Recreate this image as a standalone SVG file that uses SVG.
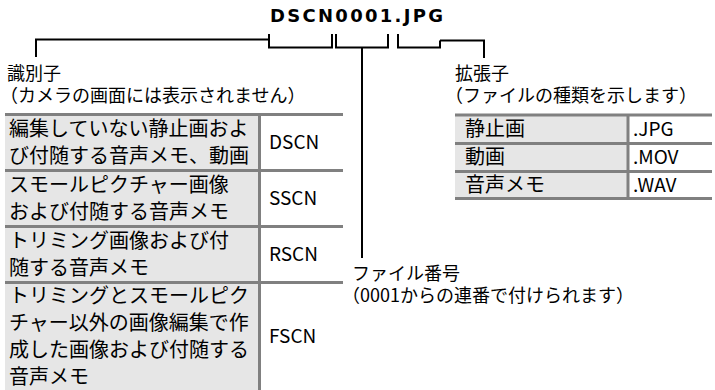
<svg xmlns="http://www.w3.org/2000/svg" width="715" height="390" viewBox="0 0 715 390">
<style>
text{font-family:"Noto Sans CJK JP","Noto Sans",sans-serif;fill:#000}
text.title{font-family:"DejaVu Sans",sans-serif;font-size:18px;font-weight:bold}
.t{font-size:20px}
.l{font-size:18px}
.c{font-size:19px}
.con{fill:none;stroke:#000;stroke-width:2}
.g{stroke:#808080;stroke-width:3;fill:none}
.cell{fill:#e6e6e6}
</style>
<rect width="715" height="390" fill="#fff"/>
<g id="title">
<text class="title" x="270" y="22" textLength="173" lengthAdjust="spacing">DSCN0001.JPG</text>
</g>
<g id="connectors" class="con">
<path d="M36,57 V39.5 H269"/>
<path d="M269,34 V47.5 H332 V34"/>
<path d="M336,34 V47.5 H388 V34"/>
<path d="M362,47.5 V258"/>
<path d="M398,34 V47.5 H440 V40.5"/>
<path d="M440,40.5 H484 V58"/>
</g>
<g id="identifier-label">
<text class="l" x="7" y="80">識別子</text>
<text class="l" x="0" y="102">（カメラの画面には表示されません）</text>
</g>
<g id="extension-label">
<text class="l" x="455" y="80">拡張子</text>
<text class="l" x="445" y="102">（ファイルの種類を示します）</text>
</g>
<g id="number-label">
<text class="l" x="352" y="280">ファイル番号</text>
<text class="l" x="342" y="302">（0001からの連番で付けられます）</text>
</g>
<g id="identifier-table">
<rect class="cell" x="5" y="114" width="254" height="276"/>
<path class="g" d="M5,114.5 H343 M5,170.5 H343 M5,226.5 H343 M5,282.5 H343 M259.5,114 V390"/>
<text class="t" x="9" y="136">編集していない静止画およ</text>
<text class="t" x="9" y="163">び付随する音声メモ、動画</text>
<text class="c" x="269" y="149">DSCN</text>
<text class="t" x="9" y="192">スモールピクチャー画像</text>
<text class="t" x="9" y="219">および付随する音声メモ</text>
<text class="c" x="269" y="205">SSCN</text>
<text class="t" x="9" y="248">トリミング画像および付</text>
<text class="t" x="9" y="275">随する音声メモ</text>
<text class="c" x="269" y="261">RSCN</text>
<text class="t" x="9" y="303">トリミングとスモールピク</text>
<text class="t" x="9" y="330">チャー以外の画像編集で作</text>
<text class="t" x="9" y="357">成した画像および付随する</text>
<text class="t" x="9" y="384">音声メモ</text>
<text class="c" x="269" y="343">FSCN</text>
</g>
<g id="extension-table">
<rect class="cell" x="455" y="115" width="173" height="84"/>
<path class="g" d="M455,115 H712 M455,143.5 H712 M455,171.5 H712 M455,198.5 H712 M628,115 V198.5"/>
<text class="t" x="465" y="136">静止画</text>
<text class="c" x="633" y="136">.JPG</text>
<text class="t" x="465" y="164">動画</text>
<text class="c" x="633" y="164">.MOV</text>
<text class="t" x="465" y="192">音声メモ</text>
<text class="c" x="633" y="192">.WAV</text>
</g>
</svg>
